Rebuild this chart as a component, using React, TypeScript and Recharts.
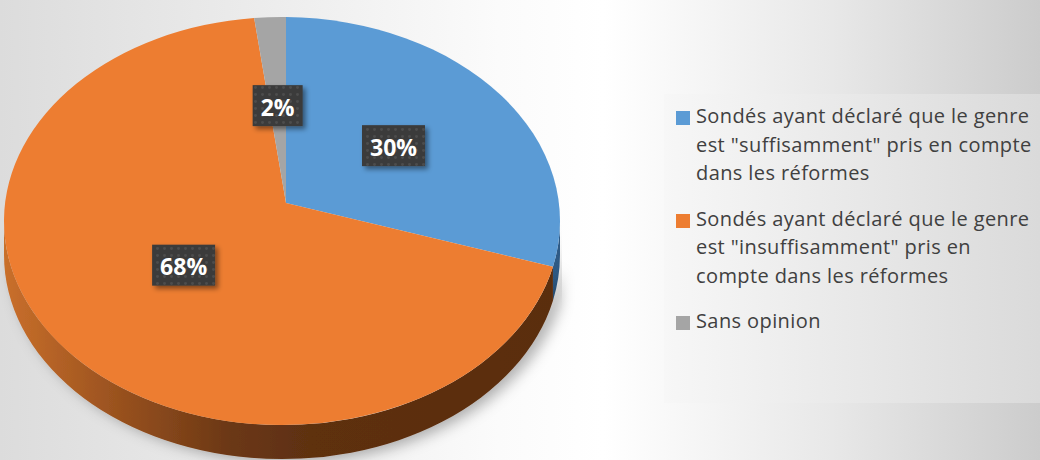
import React from 'react';
import { PieChart, Pie, Cell, Legend } from 'recharts';

const categories = [
  'Sondés ayant déclaré que le genre est "suffisamment" pris en compte dans les réformes',
  'Sondés ayant déclaré que le genre est "insuffisamment" pris en compte dans les réformes',
  'Sans opinion',
];
const values = [30, 68, 2];
const colors = ['#5b9bd5', '#ed7d31', '#a5a5a5'];
const sideGradientIds = ['sideBlue', 'sideOrange', 'sideGray'];

const data = categories.map((name, i) => ({ name, value: values[i] }));

const W = 1040;
const H = 460;
const K = 0.734; // vertical squash of the top face
const OFF_X = -4 / 278;
const OFF_Y = 18 / 278;
const DEPTH = 34 / 278;
const LABEL_R = 0.478;
const FONT = '"Open Sans", "Noto Sans", sans-serif';

function geom(cx: number, cy: number, R: number) {
  const rx = R;
  const ry = R * K;
  const Ex = cx + OFF_X * R;
  const Ey = cy + OFF_Y * R;
  const boundary = (deg: number) => {
    const t = (deg * Math.PI) / 180;
    const dx = Math.cos(t);
    const dy = -Math.sin(t) * K;
    const u = (cx - Ex) / rx;
    const v = (cy - Ey) / ry;
    const du = dx / rx;
    const dv = dy / ry;
    const a = du * du + dv * dv;
    const b = 2 * (u * du + v * dv);
    const c = u * u + v * v - 1;
    const s = (-b + Math.sqrt(b * b - 4 * a * c)) / (2 * a);
    return { x: cx + s * dx, y: cy + s * dy };
  };
  const phi = (p: { x: number; y: number }) =>
    (Math.atan2((p.y - Ey) / ry, (p.x - Ex) / rx) * 180) / Math.PI;
  const ell = (f: number) => {
    const r = (f * Math.PI) / 180;
    return { x: Ex + rx * Math.cos(r), y: Ey + ry * Math.sin(r) };
  };
  return { rx, ry, Ex, Ey, boundary, phi, ell, depth: DEPTH * R };
}

const Slice3D = (props: any) => {
  const { cx, cy, outerRadius, startAngle, endAngle, fill } = props;
  const g = geom(cx, cy, outerRadius);
  const p1 = g.boundary(startAngle);
  const p2 = g.boundary(endAngle);
  const f1 = g.phi(p1);
  let f2 = g.phi(p2);
  while (f2 <= f1) f2 += 360;
  const large = f2 - f1 > 180 ? 1 : 0;
  const top = `M${cx},${cy} L${p1.x},${p1.y} A${g.rx},${g.ry} 0 ${large} 1 ${p2.x},${p2.y} Z`;
  const idx = colors.indexOf(fill);
  const gid = sideGradientIds[idx >= 0 ? idx : 0];
  const sides: string[] = [];
  for (const k of [-360, 0, 360]) {
    const a = Math.max(f1, k);
    const b = Math.min(f2, k + 180);
    if (b > a) {
      const A = g.ell(a);
      const B = g.ell(b);
      const d = g.depth;
      sides.push(
        `M${A.x},${A.y} A${g.rx},${g.ry} 0 0 1 ${B.x},${B.y} L${B.x},${B.y + d} A${g.rx},${g.ry} 0 0 0 ${A.x},${A.y + d} Z`
      );
    }
  }
  return (
    <g>
      {sides.map((d, i) => (
        <path key={i} d={d} fill={`url(#${gid})`} filter="url(#pieShadow)" />
      ))}
      <path d={top} fill={fill} />
    </g>
  );
};

const renderLabel = (props: any) => {
  const { cx, cy, midAngle, outerRadius, value } = props;
  const s = LABEL_R * outerRadius;
  const r = (midAngle * Math.PI) / 180;
  const x = cx + s * Math.cos(r);
  const y = cy - s * Math.sin(r) * K;
  const text = `${value}%`;
  const w = 24 + 13 * text.length;
  const h = 41;
  return (
    <g>
      <rect x={x - w / 2} y={y - h / 2} width={w} height={h} fill="url(#dots)" filter="url(#lblShadow)" />
      <text
        x={x}
        y={y + 1}
        textAnchor="middle"
        dominantBaseline="central"
        fill="#ffffff"
        fontWeight={700}
        fontSize={23}
        fontFamily={FONT}
      >
        {text}
      </text>
    </g>
  );
};

const renderLegend = (props: any) => {
  const payload = [...(props.payload || [])].sort(
    (a: any, b: any) => categories.indexOf(a.value) - categories.indexOf(b.value)
  );
  return (
    <div
      style={{
        width: 376,
        height: 309,
        boxSizing: 'border-box',
        paddingTop: 8,
        background: 'linear-gradient(to right, #f7f7f7, #dadada)',
        fontFamily: FONT,
        fontSize: 20,
        letterSpacing: 0.4,
        lineHeight: '28.5px',
        color: '#404040',
        textAlign: 'left',
      }}
    >
      {payload.map((e: any, i: number) => {
        const ci = categories.indexOf(e.value);
        return (
          <div key={i} style={{ position: 'relative', paddingLeft: 32, marginBottom: 17 }}>
            <span
              style={{
                position: 'absolute',
                left: 12,
                top: 9,
                width: 14,
                height: 14,
                background: colors[ci >= 0 ? ci : i],
              }}
            />
            <span>{e.value}</span>
          </div>
        );
      })}
    </div>
  );
};

export default function App() {
  return (
    <div
      style={{
        position: 'absolute',
        left: 0,
        top: 0,
        width: W,
        height: H,
        overflow: 'hidden',
        background:
          'linear-gradient(to right, #dcdcdc 0%, #ececec 25%, #fbfbfb 48%, #ffffff 58%, #e8e8e8 80%, #cccccc 100%)',
      }}
    >
      <svg width={0} height={0} style={{ position: 'absolute' }}>
        <defs>
          <linearGradient id="sideOrange" gradientUnits="userSpaceOnUse" x1={5} y1={0} x2={560} y2={0}>
            <stop offset="0%" stopColor="#c96f2b" />
            <stop offset="20%" stopColor="#9a521f" />
            <stop offset="40%" stopColor="#6c3815" />
            <stop offset="55%" stopColor="#5e3011" />
            <stop offset="100%" stopColor="#5a2d0f" />
          </linearGradient>
          <linearGradient id="sideBlue" gradientUnits="userSpaceOnUse" x1={5} y1={0} x2={560} y2={0}>
            <stop offset="0%" stopColor="#3f6f9f" />
            <stop offset="100%" stopColor="#2f5a85" />
          </linearGradient>
          <linearGradient id="sideGray" gradientUnits="userSpaceOnUse" x1={5} y1={0} x2={560} y2={0}>
            <stop offset="0%" stopColor="#7a7a7a" />
            <stop offset="100%" stopColor="#555555" />
          </linearGradient>
          <pattern id="dots" patternUnits="userSpaceOnUse" width={7} height={7}>
            <rect width={7} height={7} fill="#3b3b3b" />
            <circle cx={3.5} cy={3.5} r={1.4} fill="#4d4d4d" />
          </pattern>
          <filter id="lblShadow" x="-30%" y="-30%" width="160%" height="160%">
            <feDropShadow dx={3} dy={3} stdDeviation={2.5} floodColor="#000" floodOpacity={0.45} />
          </filter>
          <filter id="pieShadow" x="-20%" y="-50%" width="140%" height="250%">
            <feDropShadow dx={7} dy={3} stdDeviation={7} floodColor="#000" floodOpacity={0.3} />
          </filter>
        </defs>
      </svg>
      <PieChart width={W} height={H} margin={{ top: 0, right: 0, bottom: 0, left: 0 }}>
        <Pie
          data={data}
          dataKey="value"
          nameKey="name"
          cx={286}
          cy={203}
          outerRadius={278}
          startAngle={90}
          endAngle={-270}
          stroke="none"
          isAnimationActive={false}
          shape={Slice3D}
          activeShape={Slice3D}
          inactiveShape={Slice3D}
          label={renderLabel}
          labelLine={false}
        >
          {data.map((d, i) => (
            <Cell key={d.name} fill={colors[i]} />
          ))}
        </Pie>
        <Legend
          layout="vertical"
          align="right"
          verticalAlign="top"
          content={renderLegend}
          wrapperStyle={{ position: 'absolute', left: 664, top: 94, width: 376, height: 309 }}
        />
      </PieChart>
    </div>
  );
}
